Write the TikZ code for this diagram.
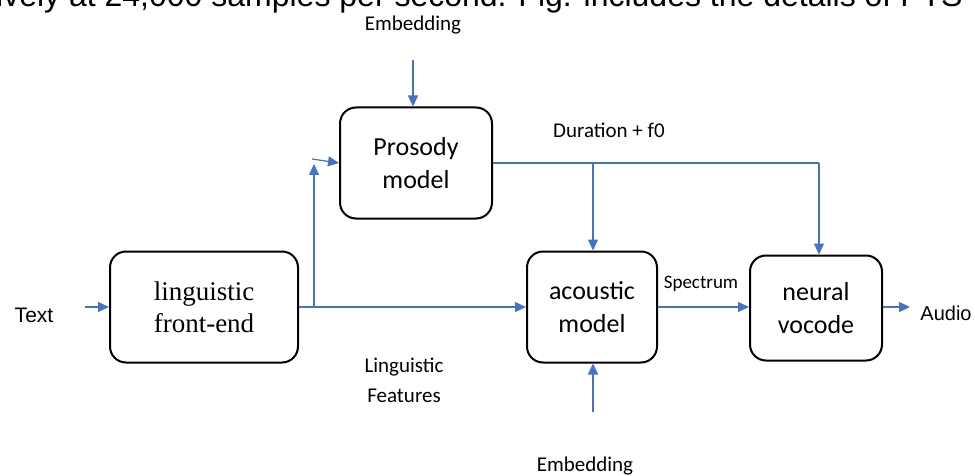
\documentclass[tikz,border=0pt]{standalone}
\usepackage{fontspec}
\setmainfont{Carlito}
\newfontfamily\arialfont{Liberation Sans}
\newfontfamily\serifbox{Liberation Serif}
\usetikzlibrary{arrows.meta}
\definecolor{linkblue}{HTML}{4472C4}

\begin{document}
\begin{tikzpicture}[x=1pt,y=-1pt,
  block/.style={draw=black, line width=2pt, rounded corners=16pt, fill=white,
    inner sep=0pt, align=center, font=\fontsize{26}{33}\selectfont},
  wire/.style={draw=linkblue, line width=1.2pt},
  flow/.style={wire, -{Triangle[length=11pt,width=10pt]}},
  lbl/.style={inner sep=0pt, align=center, font=\fontsize{21}{30}\selectfont}
]
\path[use as bounding box] (0,0) rectangle (975,476);
\clip (0,0) rectangle (975,476);

% caption line of the surrounding text
\node[anchor=base west, inner sep=0pt, font=\arialfont\fontsize{32}{36}\selectfont]
  (caption) at (-4,7) {ively at 24,000 samples per second. Fig. includes the details of PTS};

% blocks
\node[block, minimum width=152pt, minimum height=111pt] (pros) at (416,163) {Prosody\\model};
\node[block, minimum width=188pt, minimum height=111pt,
  font=\serifbox\fontsize{27}{32}\selectfont] (fe) at (204,307) {linguistic\\front-end};
\node[block, minimum width=130pt, minimum height=111pt] (ac) at (592,307) {acoustic\\model};
\node[block, minimum width=132pt, minimum height=105pt] (voc) at (816,308) {neural\\vocode};

% labels
\node[lbl] (embtop) at (413,25) {Embedding};
\node[lbl, font=\arialfont\fontsize{21}{25}\selectfont] (txt) at (34,315) {Text};
\node[lbl] (dur) at (609,130) {Duration + f0};
\node[lbl, font=\fontsize{19}{23}\selectfont] (spec) at (701,284) {Spectrum};
\node[lbl, font=\arialfont\fontsize{20}{24}\selectfont] (audio) at (946,313) {Audio};
\node[lbl] (ling) at (404,380) {Linguistic\\Features};
\node[lbl] (embbot) at (585,466) {Embedding};

% connector end points
\coordinate (embtopend) at (413,60);
\coordinate (txtend) at (85,307);
\coordinate (br) at (314,307);
\coordinate (brtop) at (314,164);
\coordinate (brtip) at (312,159);
\coordinate (durM) at (593,163);
\coordinate (durR) at (819,163);
\coordinate (audend) at (910,307);
\coordinate (embbotend) at (593,412);

% connectors
\draw[flow] (embtopend) -- (embtopend |- pros.north);
\draw[flow] (txtend) -- (fe.west);
\draw[flow] (fe.east) -- (ac.west);
\draw[flow] (br) -- (brtop);
\draw[flow] (brtip) -- (pros.west);
\draw[wire] (pros.east) -- (durR);
\draw[flow] (durM) -- (durM |- ac.north);
\draw[flow] (durR) -- (durR |- voc.north);
\draw[flow] (ac.east) -- (ac.east -| voc.west);
\draw[flow] (ac.east -| voc.east) -- (audend);
\draw[flow] (embbotend) -- (embbotend |- ac.south);
\end{tikzpicture}
\end{document}
